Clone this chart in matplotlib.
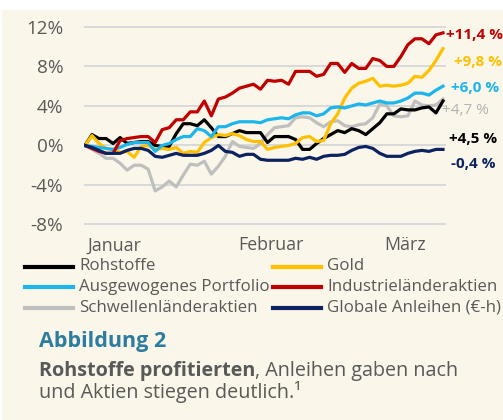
import matplotlib
matplotlib.use("Agg")
import matplotlib.pyplot as plt
from matplotlib.lines import Line2D
from matplotlib.patches import Rectangle

plt.rcParams['font.family'] = ['Open Sans', 'DejaVu Sans']

# Wertentwicklung seit Jahresbeginn in %, ca. 52 Handelstage
rohstoffe = [0, 1.1, 0.7, 0.7, 0.2, 0.8, 0.2, 0.3, 0.4, 0.4, 0.0, -0.1, -0.1, 1.2, 2.2, 2.2,
             2.0, 2.6, 1.8, 0.9, 0.9, 1.2, 1.5, 1.3, 1.3, 1.3, 0.3, 0.9, 0.9, 0.9, 0.6, -0.4,
             -0.4, 0.2, 0.7, 1.1, 1.5, 1.3, 1.7, 1.5, 1.1, 1.7, 2.3, 3.2, 3.2, 3.7, 3.6, 3.6,
             3.8, 3.9, 3.3, 4.5]
gold = [0, 1.0, 0.2, -0.3, -0.4, -0.7, -0.6, -1.2, -0.1, 0.0, -0.4, -0.3, -0.4, -0.2, -0.8, -0.6,
        -0.7, 0.3, 0.8, 1.1, 1.0, 1.2, 1.0, 0.6, 0.4, 0.4, -0.4, -0.2, -0.1, 0.0, 0.2, 0.8,
        0.9, 0.4, 0.5, 2.2, 3.2, 4.8, 5.8, 6.3, 6.5, 6.8, 6.0, 6.1, 6.0, 6.1, 6.3, 7.0,
        6.9, 7.6, 8.6, 9.8]
portfolio = [0, -0.1, -0.2, -0.3, -0.4, -0.2, 0.1, 0.3, 0.3, 0.3, -0.6, 0.0, 0.2, 0.6, 0.9, 0.9,
             1.7, 1.5, 0.9, 1.9, 1.9, 2.2, 2.4, 2.4, 2.4, 2.3, 2.6, 2.7, 2.8, 2.7, 3.1, 3.3,
             3.3, 3.0, 3.2, 3.8, 3.9, 3.8, 4.0, 4.2, 4.1, 4.3, 4.5, 4.3, 4.3, 4.5, 4.8, 5.3,
             5.3, 5.1, 5.6, 6.0]
industrie = [0, -0.3, -0.6, -0.8, -0.8, 0.5, 0.7, 0.8, 0.9, 0.9, 0.3, 1.6, 1.8, 2.6, 2.6, 3.4,
             3.4, 4.5, 3.0, 4.7, 4.9, 5.3, 5.8, 6.0, 6.2, 5.7, 6.6, 6.5, 6.6, 6.2, 7.5, 7.5,
             7.5, 7.0, 7.2, 8.3, 8.3, 7.4, 8.3, 7.8, 7.8, 8.8, 8.6, 8.0, 8.0, 9.0, 10.2, 10.8,
             10.8, 10.3, 11.2, 11.4]
schwellen = [0, -0.4, -0.8, -1.3, -1.3, -1.8, -2.5, -2.0, -2.0, -2.4, -4.6, -4.2, -3.6, -4.2, -3.0, -1.9,
             -2.0, -1.6, -2.9, -2.1, -1.1, 0.4, -0.1, -0.2, -0.3, 0.2, 1.1, 1.8, 1.9, 2.0, 2.8, 2.9,
             2.8, 2.3, 1.9, 2.4, 2.5, 2.0, 1.9, 2.1, 2.2, 2.8, 4.2, 4.0, 3.0, 2.9, 3.0, 4.5,
             4.1, 4.0, 4.1, 4.7]
anleihen = [0, -0.2, -0.5, -0.8, -0.8, -0.8, -0.5, -0.3, -0.3, -0.5, -1.1, -1.2, -1.0, -0.8, -1.0, -1.0,
            -1.0, -0.8, -0.5, 0.0, -0.6, -0.7, -1.1, -0.9, -0.9, -1.4, -1.5, -1.5, -1.5, -1.5, -1.3, -1.4,
            -1.2, -1.4, -1.1, -1.0, -1.0, -0.9, -0.5, -0.2, -0.1, -0.3, -0.8, -1.1, -1.1, -1.1, -0.8, -0.6,
            -0.5, -0.6, -0.4, -0.4]

month_pos = [0.3, 21.9, 42.7]
month_labels = ["Januar", "Februar", "März"]
y_ticks = [-8, -4, 0, 4, 8, 12]
y_labels = ["-8%", "-4%", "0%", "4%", "8%", "12%"]

# Endwert-Beschriftungen
end_labels = ["+11,4 %", "+9,8 %", "+6,0 %", "+4,7 %", "+4,5 %", "-0,4 %"]
end_label_y = [11.2, 8.45, 5.8, 3.5, 0.7, -1.85]
end_label_x = [51.45, 52.6, 52.2, 50.9, 51.9, 52.2]

c_black = "#000000"
c_gold = "#FFC000"
c_blue = "#1CB5EC"
c_red = "#C00000"
c_gray = "#BFBFBF"
c_navy = "#0D2260"
txt_gray = "#595959"

fig = plt.figure(figsize=(5.03, 4.20), dpi=100)
fig.patch.set_facecolor("white")
fig.add_artist(Rectangle((2 / 503, 0), 1, 410 / 420, transform=fig.transFigure,
                         facecolor="#FAF6E9", edgecolor="none", zorder=-10))

ax = fig.add_axes([84 / 503, 190.6 / 420, 362 / 503, 207.4 / 420])
ax.set_facecolor("none")
x = list(range(len(rohstoffe)))

lw = 2.3
ax.plot(x, schwellen, color=c_gray, lw=lw, zorder=3)
ax.plot(x, rohstoffe, color=c_black, lw=lw, zorder=4)
ax.plot(x, gold, color=c_gold, lw=lw, zorder=4)
ax.plot(x, portfolio, color=c_blue, lw=lw, zorder=5)
ax.plot(x, industrie, color=c_red, lw=lw, zorder=6)
ax.plot(x, anleihen, color=c_navy, lw=lw, zorder=7)

ax.set_ylim(-8.5, 12.5)
ax.set_xlim(-0.14, 51.43)
ax.set_yticks(y_ticks, y_labels)
ax.set_xticks(month_pos, month_labels)
for lab in ax.get_xticklabels():
    lab.set_horizontalalignment("left")
ax.tick_params(axis="both", length=0, labelcolor=txt_gray)
ax.tick_params(axis="y", pad=15, labelsize=13.6)
ax.tick_params(axis="x", pad=5, labelsize=12.8)
for s in ax.spines.values():
    s.set_visible(False)
for v in y_ticks:
    ax.axhline(v, color="#D9D9D9", lw=1.4, zorder=1)

end_colors = [c_red, c_gold, c_blue, "#B3B3B3", c_black, c_navy]
end_weights = ["bold", "bold", "bold", "normal", "bold", "bold"]
for t, yy, xx, col, w in zip(end_labels, end_label_y, end_label_x, end_colors, end_weights):
    ax.text(xx, yy, t, color=col, fontsize=11, fontweight=w, va="center", ha="left",
            clip_on=False)

# Legende (zwei Spalten)
leg_items = [("Rohstoffe", c_black), ("Gold", c_gold),
             ("Ausgewogenes Portfolio", c_blue), ("Industrieländeraktien", c_red),
             ("Schwellenländeraktien", c_gray), ("Globale Anleihen (€-h)", c_navy)]
col_x = [25, 273]
row_y = [266.5, 287, 307.5]
for i, (name, col) in enumerate(leg_items):
    cx = col_x[i % 2]
    ry = 420 - row_y[i // 2]
    fig.add_artist(Line2D([cx / 503, (cx + 48) / 503], [ry / 420, ry / 420],
                          transform=fig.transFigure, color=col, lw=3))
    fig.text((cx + 54) / 503, ry / 420, name, fontsize=12.2, color=txt_gray,
             va="center", ha="left")

fig.text(39 / 503, 1 - 341 / 420, "Abbildung 2", fontsize=15.5, fontweight="bold",
         color="#2E7DA0", va="center", ha="left")
bold_part = fig.text(39 / 503, 1 - 371 / 420, "Rohstoffe profitierten", fontsize=14.2,
                     fontweight="bold", color=txt_gray, va="center", ha="left")
fig.canvas.draw()
bb = bold_part.get_window_extent(fig.canvas.get_renderer())
fig.text(bb.x1 / (5.03 * 100), 1 - 371 / 420, ", Anleihen gaben nach", fontsize=14.2,
         color=txt_gray, va="center", ha="left")
fig.text(39 / 503, 1 - 392 / 420, "und Aktien stiegen deutlich.¹", fontsize=14.2,
         color=txt_gray, va="center", ha="left")

fig.savefig("out.png", dpi=100)
